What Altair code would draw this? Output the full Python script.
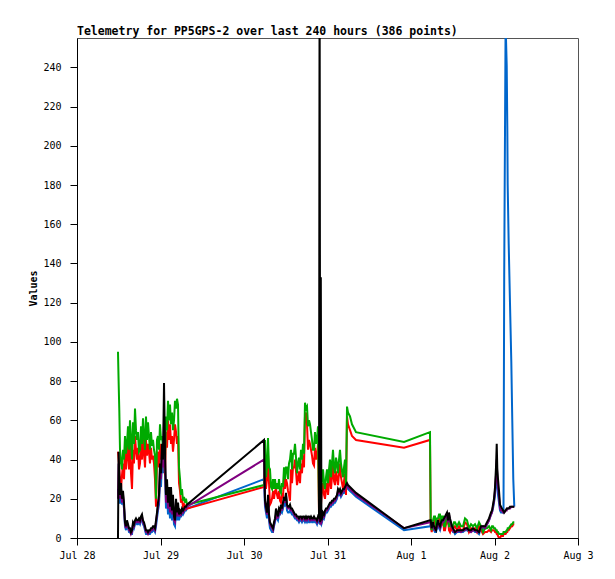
import altair as alt
import pandas as pd

# ---- data: hours since Jul 28 00:00, three recording sessions ----
hours_a = [11.78, 11.96, 12.16, 12.36, 12.65, 12.93, 13.22, 13.51, 13.80, 14.08,
           14.37, 14.66, 14.95, 15.23, 15.52, 15.81, 16.10, 16.38, 16.67, 16.96,
           17.25, 17.53, 17.82, 18.11, 18.40, 18.68, 18.97, 19.26, 19.55, 19.83,
           20.12, 20.41, 20.69, 20.98, 21.27, 21.56, 21.84, 22.13, 22.42, 22.71,
           22.99, 23.28, 23.57, 23.86, 24.14, 24.43, 24.72, 25.01, 25.29, 25.58,
           25.87, 26.16, 26.44, 26.73, 27.02, 27.31, 27.59, 27.88, 28.17, 28.46,
           28.74, 29.03, 29.32, 29.61, 29.89, 30.18, 30.47, 30.76, 31.04, 31.33,
           31.62]
green_a = [95, 80, 65, 45, 38, 35, 45, 40, 52, 43,
           48, 57, 45, 60, 50, 40, 59, 48, 66, 55,
           50, 54, 44, 45, 57, 48, 61, 52, 45, 62,
           50, 59, 52, 45, 54, 47, 50, 45, 42, 20,
           50, 52, 45, 58, 50, 52, 46, 50, 40, 62,
           55, 70, 60, 68, 58, 64, 55, 60, 70, 66,
           71, 68, 36, 30, 22, 25, 19, 21, 18, 20,
           17]
red_a = [44, 40, 36, 30, 25, 32, 38, 30, 45, 35,
         42, 48, 35, 50, 33, 25, 45, 38, 52, 45,
         40, 46, 35, 38, 48, 40, 52, 43, 36, 50,
         42, 48, 44, 38, 46, 40, 42, 38, 30, 16,
         40, 44, 36, 48, 40, 45, 38, 42, 32, 54,
         46, 60, 50, 58, 48, 52, 44, 50, 58, 54,
         48, 52, 28, 24, 18, 20, 16, 17, 14, 16,
         15]
black_a = [0, 44, 30, 22, 28, 20, 24, 18, 8, 6,
           9, 7, 5, 5, 3, 4, 8, 7, 9, 10,
           9, 9, 10, 9, 11, 12, 9, 8, 6, 4,
           4, 3, 4, 4, 5, 5, 6, 6, 5, 9,
           13, 18, 22, 38, 33, 48, 40, 79, 45, 22,
           30, 18, 26, 16, 26, 14, 22, 11, 9, 20,
           13, 18, 12, 14, 13, 15, 14, 15, 16, 16,
           17]
blue_a = [25, 22, 18, 18, 22, 17, 20, 15, 6, 4,
          7, 5, 3, 3, 2, 2, 6, 5, 7, 8,
          7, 7, 8, 7, 9, 10, 7, 6, 4, 2,
          2, 2, 2, 2, 3, 3, 4, 4, 3, 6,
          10, 14, 17, 30, 26, 40, 33, 55, 35, 15,
          22, 12, 18, 10, 18, 9, 15, 7, 6, 14,
          9, 13, 9, 11, 11, 13, 12, 13, 14, 14,
          15]
purple_a = [20, 38, 26, 20, 25, 18, 22, 16, 7, 5,
            8, 6, 4, 4, 2, 3, 7, 6, 8, 9,
            8, 8, 9, 8, 10, 11, 8, 7, 5, 3,
            3, 2, 3, 3, 4, 4, 5, 5, 4, 8,
            12, 16, 20, 34, 30, 44, 36, 60, 40, 18,
            26, 15, 22, 13, 22, 12, 19, 9, 8, 17,
            11, 16, 11, 13, 12, 14, 13, 14, 15, 15,
            16]

hours_b = [53.75, 54.04, 54.32, 54.61, 54.90, 55.19, 55.47, 55.76, 56.05, 56.34,
           56.62, 56.91, 57.20, 57.48, 57.77, 58.06, 58.35, 58.63, 58.92, 59.21,
           59.50, 59.78, 60.07, 60.36, 60.65, 60.93, 61.22, 61.51, 61.80, 62.08,
           62.37, 62.66, 62.95, 63.23, 63.52, 63.81, 64.10, 64.38, 64.67, 64.96,
           65.25, 65.53, 65.82, 66.11, 66.40, 66.68, 66.97, 67.26, 67.55, 67.83,
           68.12, 68.41, 68.70, 68.98, 69.27, 69.56,
           69.73, 69.90, 70.08, 70.25,
           70.42, 70.71, 71.00, 71.28, 71.57, 71.86, 72.15, 72.43, 72.72, 73.01,
           73.29, 73.58, 73.87, 74.16, 74.44, 74.73, 75.02, 75.31, 75.59, 75.88,
           76.17, 76.46, 76.74, 77.03, 77.32, 77.61,
           77.89, 78.47, 79.04, 79.62, 80.19,
           93.99, 101.46]
black_b = [50, 19, 16, 13, 22, 12, 8, 7, 6, 5,
           8, 10, 15, 13, 11, 15, 14, 17, 15, 18,
           21, 19, 23, 17, 16, 16, 17, 15, 15, 14,
           13, 12, 12, 11, 11, 10, 11, 11, 10, 11,
           11, 10, 11, 10, 11, 11, 10, 11, 10, 10,
           11, 10, 10, 9, 11, 10,
           300, 8, 133, 9,
           10, 13, 12, 14, 15, 15, 16, 17, 18, 18,
           19, 19, 20, 20, 21, 22, 25, 24, 25, 23,
           24, 25, 25, 26, 27, 28,
           27, 26, 25, 24, 23,
           5, 9]
blue_b = [30, 16, 13, 10, 18, 9, 5, 4, 3, 3,
          6, 8, 12, 10, 9, 12, 12, 14, 13, 15,
          18, 16, 20, 14, 13, 13, 14, 13, 12, 12,
          11, 10, 10, 9, 9, 8, 9, 9, 8, 9,
          9, 8, 9, 8, 9, 8, 8, 9, 8, 8,
          9, 8, 8, 7, 9, 8,
          9, 7, 8, 7,
          8, 11, 10, 12, 13, 13, 14, 15, 16, 16,
          17, 17, 18, 18, 19, 20, 23, 22, 23, 21,
          22, 23, 23, 24, 25, 26,
          25, 24, 23, 22, 21,
          4, 6]
purple_b = [40, 18, 15, 12, 20, 11, 7, 6, 5, 4,
            7, 9, 10, 12, 10, 14, 13, 16, 14, 17,
            20, 18, 22, 16, 15, 15, 16, 14, 14, 13,
            12, 11, 11, 10, 10, 9, 10, 10, 9, 10,
            10, 9, 10, 9, 10, 10, 9, 10, 9, 9,
            10, 9, 9, 8, 10, 9,
            9, 8, 9, 8,
            9, 12, 11, 13, 14, 14, 15, 16, 17, 17,
            18, 18, 19, 19, 20, 21, 24, 23, 24, 22,
            23, 24, 24, 25, 26, 27,
            26, 25, 24, 23, 22,
            5, 8]
green_b = [27, 50, 31, 36, 51, 36, 35, 26, 25, 30,
           25, 30, 25, 28, 25, 30, 24, 23, 28, 26,
           36, 30, 36, 36, 30, 38, 40, 45, 35, 43,
           43, 48, 41, 33, 38, 41, 35, 45, 40, 48,
           43, 69, 66, 67, 57, 60, 58, 54, 50, 45,
           45, 54, 48, 50, 57, 15,
           12, 10, 20, 26,
           30, 35, 28, 25, 31, 35, 28, 35, 40, 31,
           38, 45, 36, 33, 41, 38, 33, 40, 45, 38,
           34, 31, 36, 40, 26, 67,
           64, 62, 58, 56, 54,
           49, 54]
red_b = [26, 40, 25, 30, 42, 28, 17, 18, 20, 24,
         20, 24, 25, 22, 20, 24, 19, 18, 22, 21,
         30, 25, 30, 28, 24, 22, 19, 35, 28, 36,
         36, 40, 34, 27, 30, 34, 28, 38, 33, 42,
         36, 62, 64, 58, 45, 50, 48, 45, 42, 38,
         37, 46, 40, 42, 48, 12,
         10, 8, 16, 20,
         24, 28, 22, 20, 25, 28, 22, 28, 33, 25,
         31, 38, 29, 27, 34, 31, 27, 33, 38, 31,
         28, 25, 29, 33, 22, 62,
         58, 55, 52, 51, 50,
         46, 50]

hours_c = [101.66, 101.95, 102.32, 102.61, 102.90, 103.19, 103.47, 103.76, 104.05, 104.34,
           104.62, 104.91, 105.20, 105.49, 105.77, 106.06, 106.35, 106.64, 106.92, 107.21,
           107.50, 107.79, 108.07, 108.36, 108.65,
           109.22, 109.80, 110.37, 110.95, 111.52, 112.10, 112.67, 113.25, 113.82, 114.40,
           114.97, 115.55, 116.12, 116.70, 117.27, 117.85, 118.42, 119.00,
           119.28, 119.57, 119.86, 120.15, 120.43, 120.64, 120.81, 121.01, 121.30, 121.58,
           121.87, 122.16, 122.45,
           122.59, 122.79, 123.19, 123.51, 123.68, 123.79, 124.08, 124.45, 124.83, 125.11,
           125.40, 125.69]
black_c = [9, 5, 8, 6, 5, 4, 7, 9, 7, 6,
           8, 9, 9, 10, 11, 12, 13, 9, 13, 10,
           8, 6, 5, 4, 3,
           4, 4, 4, 4, 5, 5, 4, 4, 5, 4,
           4, 3, 6, 6, 6, 8, 10, 13,
           14, 17, 20, 26, 36, 48, 35, 30, 24, 17,
           16, 15, 14,
           14, 13, 14, 15, 15, 15, 15, 16, 16, 16,
           16, 16]
blue_c = [7, 4, 6, 4, 3, 3, 5, 7, 5, 4,
          6, 7, 7, 8, 9, 10, 11, 7, 11, 8,
          6, 4, 3, 3, 2,
          3, 3, 3, 3, 4, 4, 3, 3, 4, 3,
          3, 2, 5, 5, 5, 7, 9, 12,
          13, 15, 18, 22, 28, 32, 28, 22, 18, 14,
          13, 13, 13,
          14, 134, 262, 241, 210, 180, 150, 120, 90, 60,
          30, 16]
purple_c = [8, 5, 7, 5, 4, 4, 6, 8, 6, 5,
            7, 8, 8, 9, 10, 11, 12, 8, 12, 9,
            7, 5, 4, 3, 3,
            3, 4, 3, 4, 4, 5, 4, 3, 4, 4,
            3, 3, 5, 6, 5, 7, 9, 12,
            13, 16, 19, 24, 32, 40, 31, 26, 21, 15,
            14, 14, 13,
            13, 13, 14, 14, 15, 15, 15, 15, 16, 16,
            16, 16]
green_c = [9, 4, 9, 11, 11, 6, 10, 10, 12, 12,
           8, 11, 11, 6, 6, 9, 12, 12, 6, 6,
           7, 6, 6, 8, 8,
           6, 8, 6, 6, 10, 9, 5, 7, 6, 7,
           5, 8, 6, 3, 5, 5, 6, 4,
           6, 6, 5, 5, 4, 4, 3, 3, 2, 2,
           2, 2, 2,
           3, 3, 3, 4, 4, 5, 5, 6, 7, 7,
           8, 8]
red_c = [7, 3, 7, 9, 9, 4, 8, 8, 10, 10,
         6, 9, 9, 4, 4, 7, 10, 10, 4, 3,
         5, 4, 4, 6, 6,
         4, 6, 4, 4, 8, 7, 3, 5, 4, 5,
         3, 6, 4, 2, 3, 3, 4, 3,
         4, 4, 4, 3, 3, 2, 2, 1, 0, 0,
         1, 1, 1,
         2, 2, 2, 3, 3, 4, 4, 5, 6, 6,
         7, 7]

series_names = ["blue", "red", "green", "purple", "black"]
series_colors = ["#0066cc", "#ff0000", "#00aa00", "#800080", "#000000"]
y_ticks = list(range(0, 241, 20))
x_tick_days = [(7, 28), (7, 29), (7, 30), (7, 31), (8, 1), (8, 2), (8, 3)]
title_text = "Telemetry for PP5GPS-2 over last 240 hours (386 points)"

# ---- table ----
hours = hours_a + hours_b + hours_c
df = pd.DataFrame({
    "time": pd.Timestamp("2023-07-28") + pd.to_timedelta(hours, unit="h"),
    "blue": blue_a + blue_b + blue_c,
    "red": red_a + red_b + red_c,
    "green": green_a + green_b + green_c,
    "purple": purple_a + purple_b + purple_c,
    "black": black_a + black_b + black_c,
})

FONT = "DejaVu Sans Mono"
x_vals = [alt.DateTime(year=2023, month=m, date=d) for m, d in x_tick_days]

x_enc = alt.X(
    "time:T",
    title=None,
    scale=alt.Scale(domain=[x_vals[0], x_vals[-1]]),
    axis=alt.Axis(values=x_vals, format="%b %-d", grid=False, tickSize=7,
                  tickColor="black", domainColor="black", labelFont=FONT,
                  labelFontSize=10, labelColor="black", labelPadding=5,
                  labelFlush=False, labelOverlap=False),
)

def y_enc(col):
    return alt.Y(
        f"{col}:Q",
        scale=alt.Scale(domain=[0, 255], nice=False),
        axis=alt.Axis(values=y_ticks, title="Values", grid=False, tickSize=7,
                      tickColor="black", domainColor="black", labelFont=FONT,
                      labelFontSize=10, labelColor="black", labelPadding=9,
                      titleFont=FONT, titleFontSize=10, titleFontWeight="bold",
                      titleColor="black", titleAngle=270, titleX=-41, titleY=250,
                      titleAlign="center", titleBaseline="alphabetic"),
    )

layers = [
    alt.Chart().mark_line(color=c, strokeWidth=2, clip=True).encode(x=x_enc, y=y_enc(n))
    for n, c in zip(series_names, series_colors)
]

chart = alt.layer(*layers, data=df).properties(
    width=501,
    height=500,
    autosize=alt.AutoSizeParams(type="none"),
    padding={"left": 69, "top": 30, "right": 29, "bottom": 33},
    background="white",
    title=alt.TitleParams(title_text, anchor="start", frame="group", offset=3,
                          dy=11, font=FONT, fontSize=11.5, fontWeight="bold",
                          color="black", baseline="alphabetic"),
).configure_view(stroke="#555555", strokeWidth=1)

chart.save("out.html", embed_options={"renderer": "svg", "actions": False})
